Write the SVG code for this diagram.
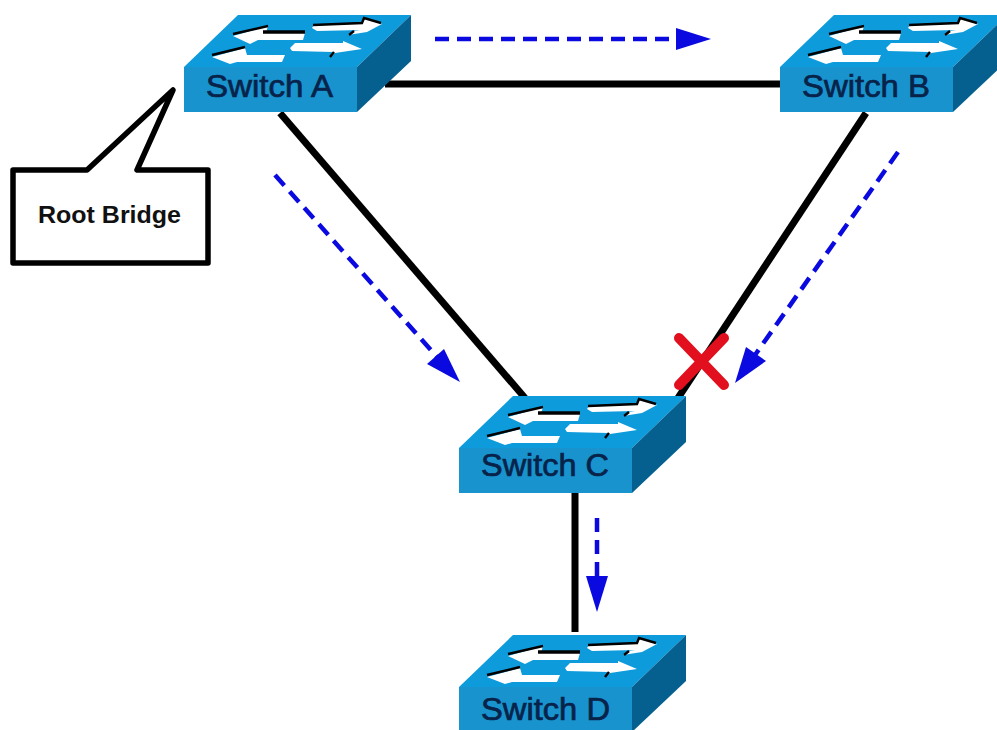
<svg xmlns="http://www.w3.org/2000/svg" width="997" height="730" viewBox="0 0 997 730">
<style>
.link{stroke:#000;stroke-width:7;fill:none}
.flow{stroke:#0a0ae0;stroke-width:4.5;stroke-dasharray:14 8;fill:none}
.head{fill:#0a0ae0}
.lbl{font-family:"Liberation Sans",Arial,sans-serif;font-size:31px;fill:#08234a;stroke:#08234a;stroke-width:.7px}
.top{fill:#0e9bdc}.front{fill:#1893ce}.side{fill:#05608f}
.aw{fill:#fff}.ab{stroke:#000;stroke-width:2.4;fill:none}
</style>
<defs>
<g id="sw">
<polygon class="top" points="184,67 238,15 411,15 357,67"/>
<rect class="front" x="184" y="67" width="173" height="45"/>
<polygon class="side" points="357,67 411,15 411,61 357,112"/>
<polygon class="aw" points="312,28 314,25 362,23 364,18 382,24 367,32 348,35 353,31 360,30 317,31"/>
<polyline class="ab" points="313,25 362,23 364,18 381,23"/>
<polyline class="ab" points="349,35 354,31"/>
<polygon class="aw" points="233,36 268,26 266,33 305,33 303,40 258,40 250,44"/>
<polyline class="ab" points="233,34 268,26"/>
<line x1="263" y1="32" x2="305" y2="32" stroke="#000" stroke-width="3.5"/>
<polygon class="aw" points="290,48 295,43 343,43 343,41 362,49 335,53 330,57 333,52 292,51"/>
<polyline class="ab" points="330,57 334,52"/>
<polygon class="aw" points="212,57 245,48 247,55 285,55 282,62 237,62 230,64"/>
<polyline class="ab" points="212,55 245,47"/>
</g>
</defs>
<rect width="997" height="730" fill="#fff"/>
<g id="connectors">
<line class="link" x1="385" y1="84" x2="785" y2="84"/>
<line class="link" x1="280" y1="113" x2="525" y2="398"/>
<line class="link" x1="866" y1="113" x2="678" y2="398"/>
<line class="link" x1="575" y1="493" x2="575" y2="632"/>
<line class="flow" x1="435" y1="39" x2="680" y2="39"/>
<polygon class="head" points="711,39 676,28 676,50"/>
<line class="flow" x1="275" y1="175" x2="438" y2="358"/>
<polygon class="head" points="460,382 427,364 444,349"/>
<line class="flow" x1="898" y1="152" x2="755" y2="355"/>
<polygon class="head" points="735,383 746,347 766,361"/>
<line class="flow" x1="597" y1="518" x2="597" y2="580"/>
<polygon class="head" points="597,612 586,576 608,576"/>
<g id="blocked" stroke="#e2101e" stroke-width="10" stroke-linecap="round">
<line x1="679" y1="338" x2="724" y2="385"/>
<line x1="724" y1="338" x2="679" y2="385"/>
</g>
</g>
<g id="switch-a"><use href="#sw"/><text class="lbl" x="206" y="97" textLength="127" lengthAdjust="spacingAndGlyphs">Switch A</text></g>
<g id="switch-b"><use href="#sw" x="596"/><text class="lbl" x="802" y="97" textLength="128" lengthAdjust="spacingAndGlyphs">Switch B</text></g>
<g id="switch-c"><use href="#sw" x="275" y="381"/><text class="lbl" x="481" y="476" textLength="128" lengthAdjust="spacingAndGlyphs">Switch C</text></g>
<g id="switch-d"><use href="#sw" x="275" y="620"/><text class="lbl" x="481" y="720" textLength="129" lengthAdjust="spacingAndGlyphs">Switch D</text></g>
<g id="root-bridge">
<polygon points="13,170 87,170 173,90 137,170 208,170 208,263 13,263" fill="#fff" stroke="#000" stroke-width="5.5" stroke-linejoin="round"/>
<text x="38" y="223" font-family="Liberation Sans,Arial,sans-serif" font-weight="700" font-size="24" textLength="143" lengthAdjust="spacingAndGlyphs" fill="#111">Root Bridge</text>
</g>
</svg>
